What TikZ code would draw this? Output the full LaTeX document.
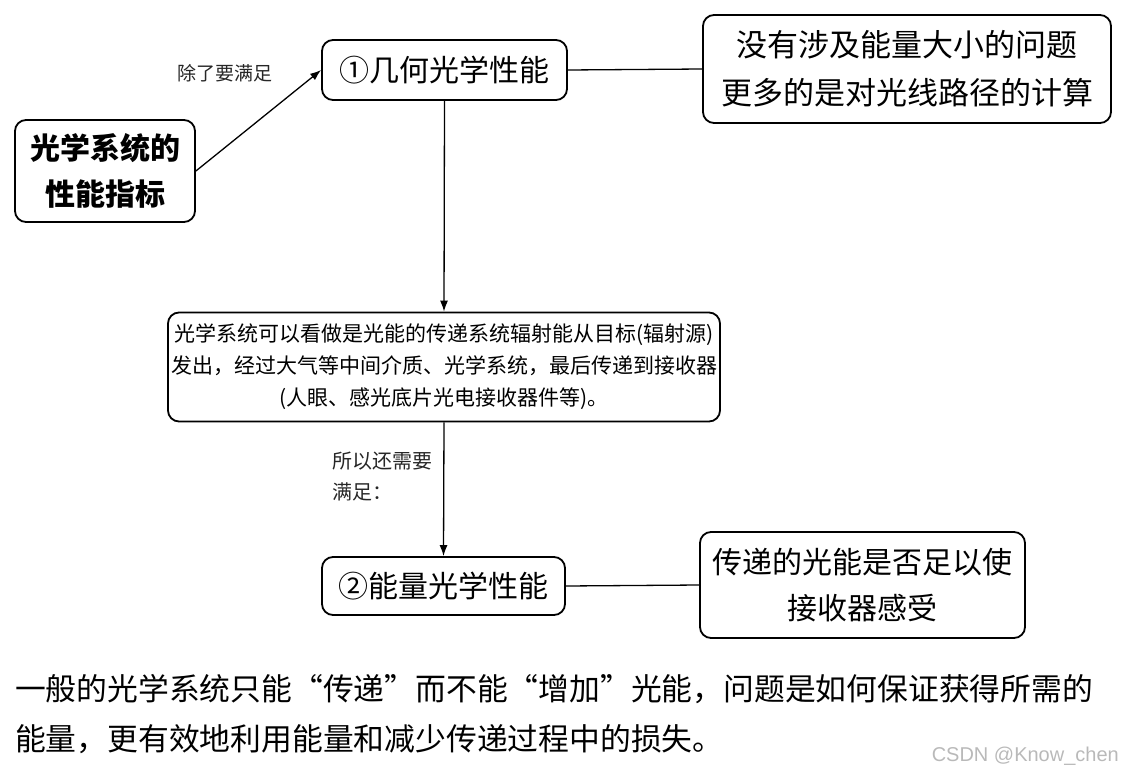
\documentclass[tikz,border=0pt]{standalone}
\usepackage{fontspec}
\setmainfont{Noto Sans CJK SC}
\newfontfamily\wmfont{Liberation Sans}
\usetikzlibrary{arrows.meta}
\definecolor{wm}{RGB}{185,185,185}
\tikzset{
  box/.style={draw=black, line width=1.8pt, rounded corners=11pt, align=center, inner sep=0pt, fill=white},
  conn/.style={draw=black, line width=1.3pt},
  arr/.style={conn, -{Latex[length=11pt,width=8pt]}},
  lbl/.style={align=left, inner sep=0pt, text=black!85},
}
\begin{document}
\begin{tikzpicture}[x=1pt,y=-1pt]
\useasboundingbox (0,0) rectangle (1124,776);
\node[box, minimum width=180pt, minimum height=102pt, font=\fontsize{30}{46}\selectfont\bfseries] (A) at (105,171) {光学系统的\\性能指标};
\node[box, minimum width=245pt, minimum height=60pt, font=\fontsize{30}{36}\selectfont] (B) at (444.5,70) {①几何光学性能};
\node[box, minimum width=408pt, minimum height=108pt, font=\fontsize{31}{48}\selectfont] (C) at (907,69) {没有涉及能量大小的问题\\更多的是对光线路径的计算};
\node[box, minimum width=552pt, minimum height=109pt, font=\fontsize{21}{32}\selectfont] (D) at (444,367) {光学系统可以看做是光能的传递系统辐射能从目标(辐射源)\\发出，经过大气等中间介质、光学系统，最后传递到接收器\\(人眼、感光底片光电接收器件等)。};
\node[box, minimum width=243pt, minimum height=58pt, font=\fontsize{30}{36}\selectfont] (E) at (443.5,586) {②能量光学性能};
\node[box, minimum width=325pt, minimum height=106pt, font=\fontsize{30}{46}\selectfont] (F) at (862.5,585) {传递的光能是否足以使\\接收器感受};
\draw[arr] (A.east) -- (B.west);
\draw[arr] (B.south) -- (D.north);
\draw[arr] (D.south) -- (E.north);
\draw[conn] (B.east) -- (C.west);
\draw[conn] (E.east) -- (F.west);
\node[lbl, anchor=west, font=\fontsize{19}{24}\selectfont] (la) at (177,73) {除了要满足};
\node[lbl, anchor=north west, font=\fontsize{20}{31}\selectfont] (lb) at (332,452) {所以还需要\\满足：};
\node[lbl, anchor=north west, text=black, font=\fontsize{30.8}{50}\selectfont] (T) at (15,674) {一般的光学系统只能“传递”而不能“增加”光能，问题是如何保证获得所需的\\能量，更有效地利用能量和减少传递过程中的损失。};
\node[anchor=east, inner sep=0pt, text=wm, font=\wmfont\fontsize{20}{22}\selectfont] (W) at (1119,756) {CSDN @Know\_chen};
\end{tikzpicture}
\end{document}
